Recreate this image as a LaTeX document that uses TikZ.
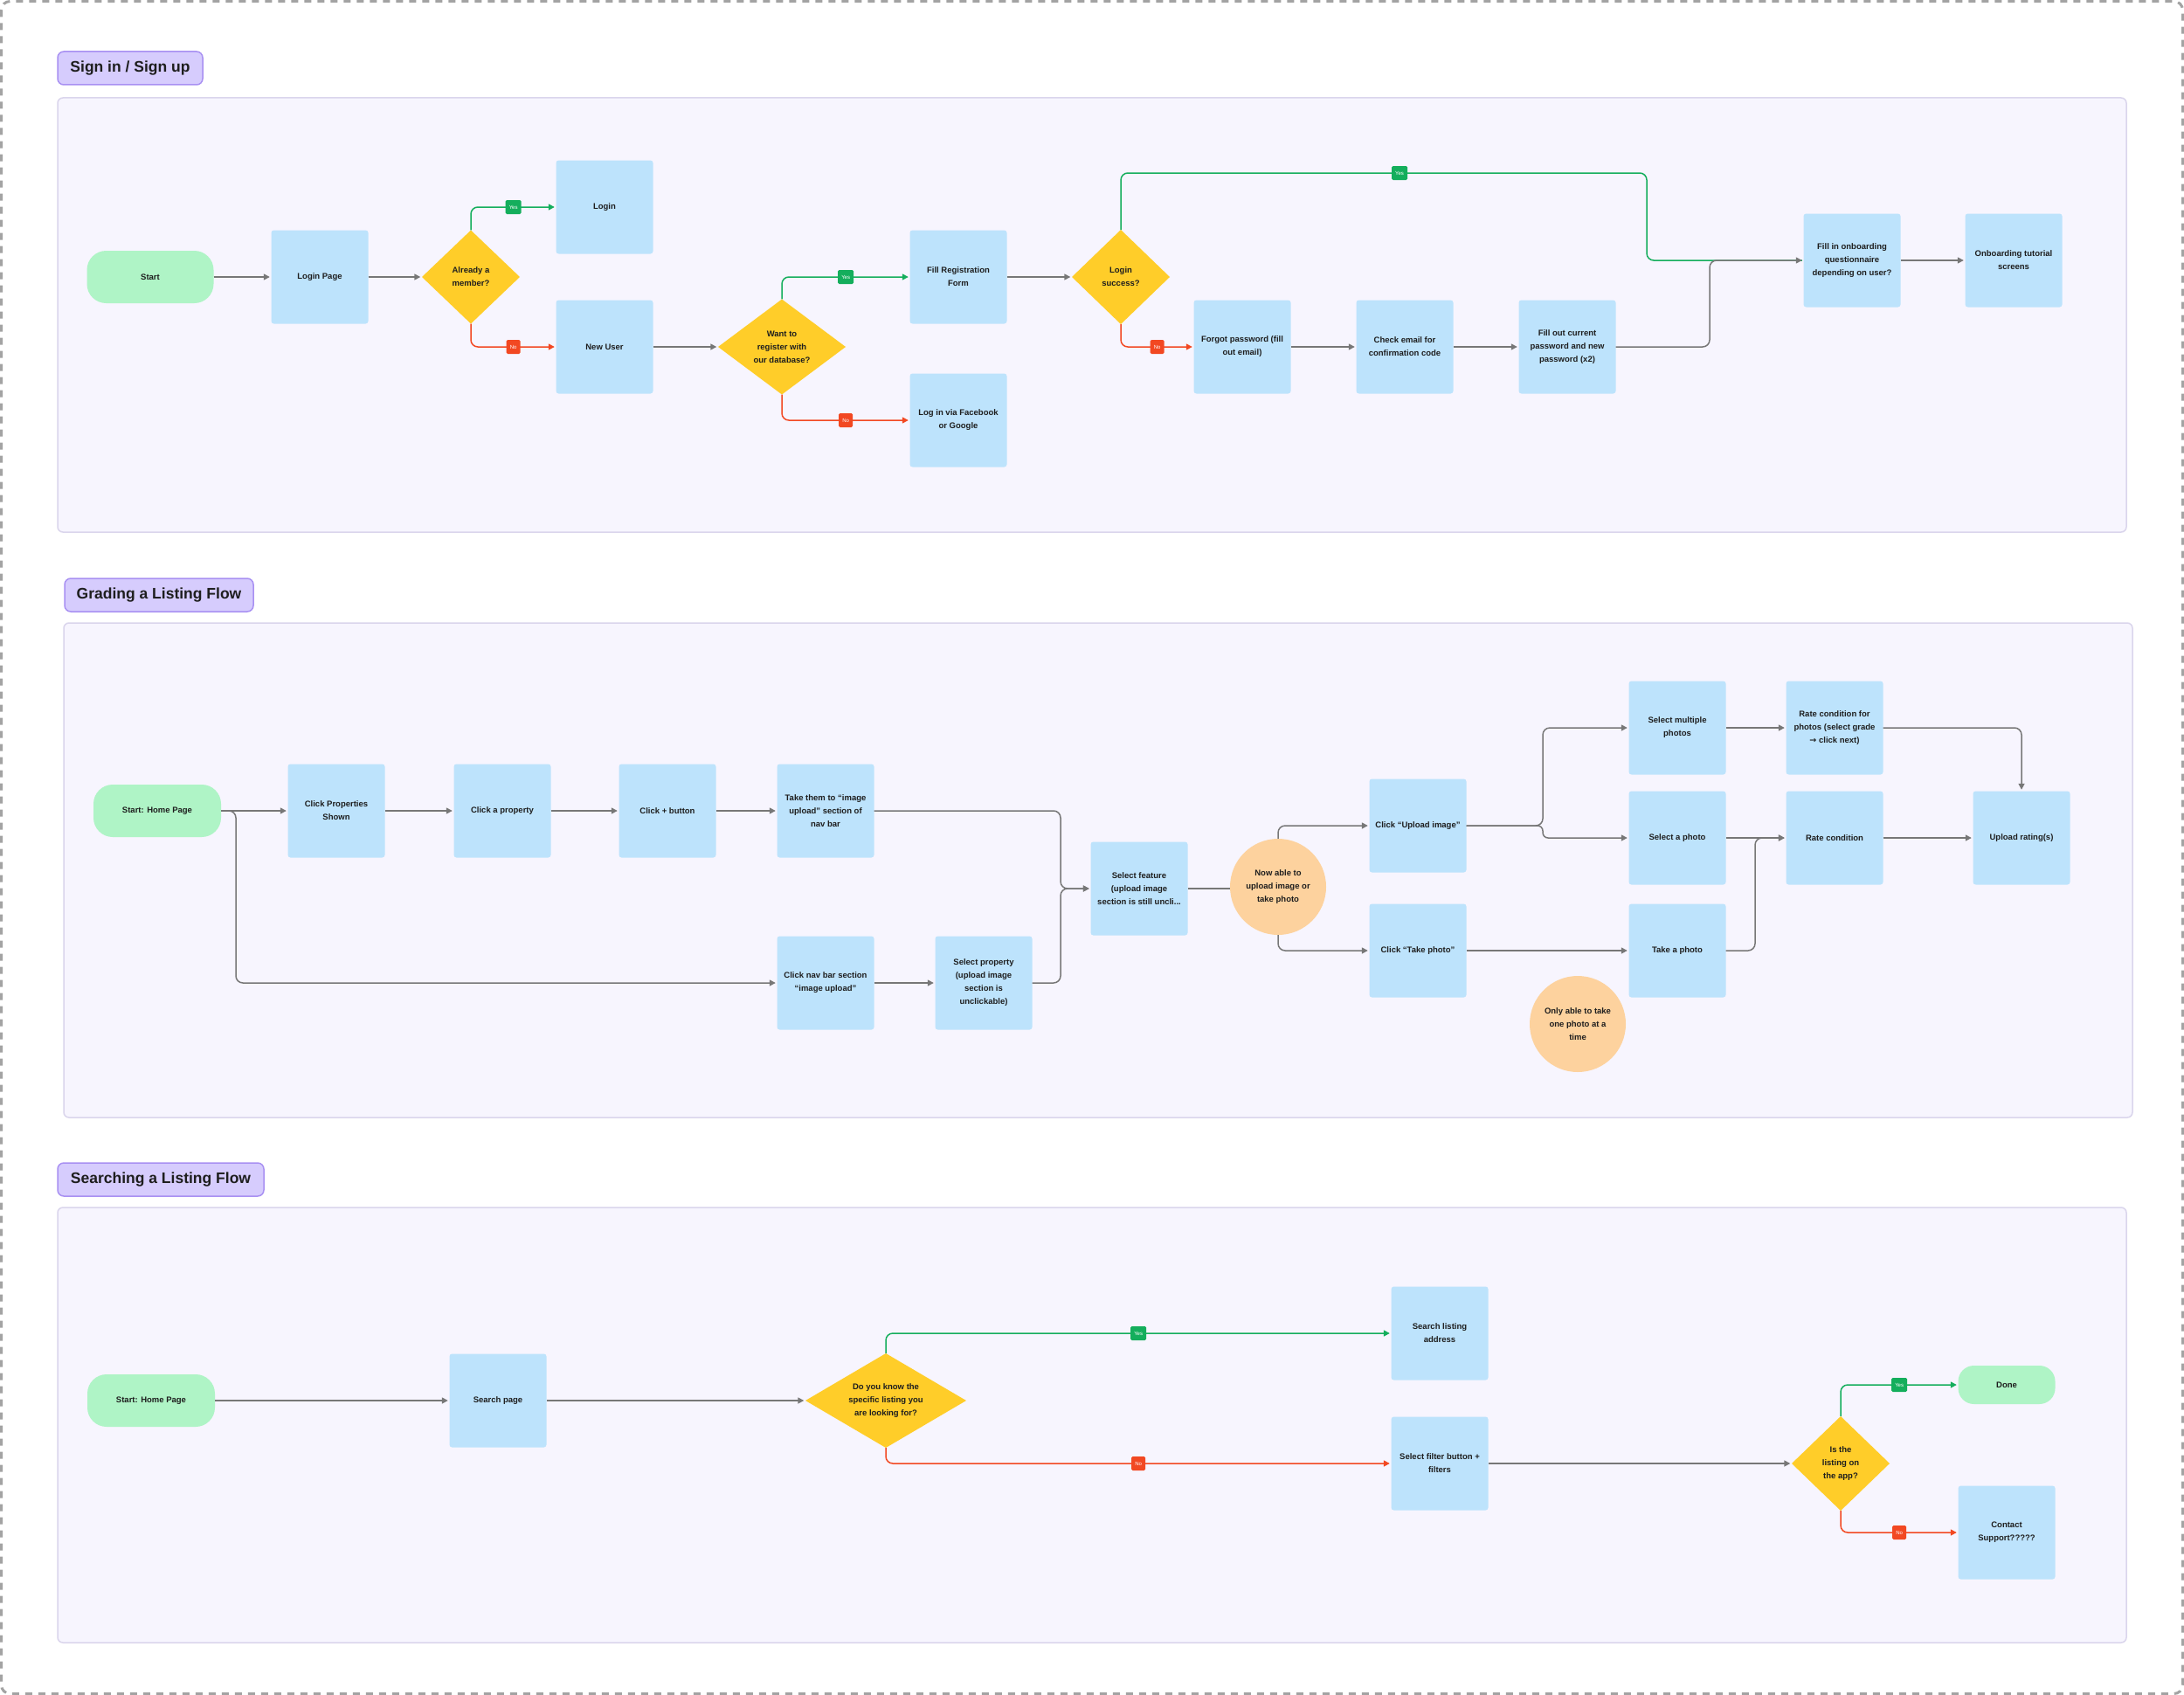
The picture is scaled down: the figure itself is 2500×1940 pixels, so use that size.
\documentclass[tikz,border=0pt]{standalone}
\usepackage{fontspec}
\setmainfont{Liberation Sans}
\newfontfamily\arrowfont{DejaVu Sans}
\usetikzlibrary{arrows.meta}
\definecolor{cblue}{HTML}{BDE3FC}
\definecolor{cgreen}{HTML}{AFF4C6}
\definecolor{cyellow}{HTML}{FFCD29}
\definecolor{corange}{HTML}{FDD29E}
\definecolor{cpanel}{HTML}{F7F5FE}
\definecolor{cpanelline}{HTML}{DAD5EC}
\definecolor{ctitle}{HTML}{D6CCFD}
\definecolor{ctitleline}{HTML}{A890F2}
\definecolor{cgray}{HTML}{777777}
\definecolor{cyes}{HTML}{14AE5C}
\definecolor{cno}{HTML}{F24822}
\definecolor{ctext}{HTML}{1E1E1E}
\definecolor{cdash}{HTML}{A3A3A3}
\newcommand\flowfont{\fontsize{9.5pt}{15pt}\selectfont\bfseries}
\newcommand\titlefont{\fontsize{17.5pt}{21pt}\selectfont\bfseries}
\newcommand\tagfont{\fontsize{6pt}{7pt}\selectfont}
\begin{document}
\begin{tikzpicture}[x=1pt,y=-1pt,
  every node/.style={text=ctext, font=\flowfont, align=center, inner sep=0pt},
  box/.style={rectangle, fill=cblue, minimum width=111pt, minimum height=107pt, rounded corners=3pt},
  pill/.style={rectangle, fill=cgreen, minimum width=146pt, minimum height=60pt, rounded corners=22pt},
  dia/.style={rectangle, fill=cpanel, path picture={\fill[cyellow] (path picture bounding box.north) -- (path picture bounding box.east) -- (path picture bounding box.south) -- (path picture bounding box.west) -- cycle;}},
  circ/.style={circle, fill=corange, minimum size=110pt},
  titlebox/.style={rectangle, fill=ctitle, draw=ctitleline, line width=1.5pt, rounded corners=7pt, minimum height=38pt, font=\titlefont},
  panel/.style={fill=cpanel, draw=cpanelline, line width=1.5pt, rounded corners=6pt},
  flow/.style={draw=cgray, line width=1.5pt, rounded corners=8pt, shorten >=1.5pt, -{Triangle[length=7pt,width=7pt]}},
  plain/.style={draw=cgray, line width=1.5pt},
  yesline/.style={flow, draw=cyes},
  noline/.style={flow, draw=cno},
  tagyes/.style={rectangle, fill=cyes, text=white, font=\tagfont, minimum width=18pt, minimum height=16pt, rounded corners=1.5pt},
  tagno/.style={rectangle, fill=cno, text=white, font=\tagfont, minimum width=16pt, minimum height=16pt, rounded corners=1.5pt}
]
\useasboundingbox (0,0) rectangle (2500,1940);
\fill[white] (0,0) rectangle (2500,1940);
\draw[cdash, line width=3pt, dash pattern=on 8pt off 7pt, rounded corners=10pt] (1.5,1.5) rectangle (2498.5,1938.5);

% panels and titles
\draw[panel] (66,112) rectangle (2434,609);
\draw[panel] (73,713) rectangle (2441,1279);
\draw[panel] (66,1382) rectangle (2434,1880);
\node[titlebox, minimum width=166pt] (t1) at (149,78) {Sign in / Sign up};
\node[titlebox, minimum width=216pt] (t2) at (182,681) {Grading a Listing Flow};
\node[titlebox, minimum width=236pt] (t3) at (184,1350) {Searching a Listing Flow};

% ---------- Section 1 ----------
\node[pill, minimum width=145pt] (s1) at (172,317) {Start};
\node[box] (lp) at (366,317) {Login Page};
\node[dia, minimum width=112pt, minimum height=107pt] (mem) at (539,317) {Already a\\member?};
\node[box] (login) at (692,237) {Login};
\node[box] (newu) at (692,397) {New User};
\node[dia, minimum width=146pt, minimum height=109pt] (reg) at (895,397) {Want to\\register with\\our database?};
\node[box] (freg) at (1097,317) {Fill Registration\\Form};
\node[box] (fb) at (1097,481) {Log in via Facebook\\or Google};
\node[dia, minimum width=112pt, minimum height=108pt] (succ) at (1283,317) {Login\\success?};
\node[box] (forgot) at (1422,397) {Forgot password (fill\\out email)};
\node[box] (check) at (1608,397) {Check email for\\confirmation code};
\node[box] (fillout) at (1794,397) {Fill out current\\password and new\\password (x2)};
\node[box] (onb) at (2120,298) {Fill in onboarding\\questionnaire\\depending on user?};
\node[box] (tut) at (2305,298) {Onboarding tutorial\\screens};

\draw[flow] (s1.east) -- (lp.west);
\draw[flow] (lp.east) -- (mem.west);
\draw[yesline] (mem.north) |- node[tagyes, pos=0.75] {Yes} (login.west);
\draw[noline] (mem.south) |- node[tagno, pos=0.75] {No} (newu.west);
\draw[flow] (newu.east) -- (reg.west);
\draw[yesline] (reg.north) |- node[tagyes, pos=0.75] {Yes} (freg.west);
\draw[noline] (reg.south) |- node[tagno, pos=0.75] {No} (fb.west);
\draw[flow] (freg.east) -- (succ.west);
\draw[yesline, -] (succ.north) -- (1283,198) -- node[tagyes, pos=0.53] {Yes} (1885,198) -- (1885,298) -- (onb.west);
\draw[noline] (succ.south) |- node[tagno, pos=0.75] {No} (forgot.west);
\draw[flow] (forgot.east) -- (check.west);
\draw[flow] (check.east) -- (fillout.west);
\draw[flow] (fillout.east) -- (1957,397) -- (1957,298) -- (onb.west);
\draw[flow] (onb.east) -- (tut.west);

% ---------- Section 2 ----------
\node[pill] (s2) at (180,928) {Start: Home Page};
\node[box] (props) at (385,928) {Click Properties\\Shown};
\node[box] (prop) at (575,928) {Click a property};
\node[box] (plus) at (764,928) {Click + button};
\node[box] (takethem) at (945,928) {Take them to “image\\upload” section of\\nav bar};
\node[box] (navbar) at (945,1125) {Click nav bar section\\“image upload”};
\node[box] (selprop) at (1126,1125) {Select property\\(upload image\\section is\\unclickable)};
\node[box] (feat) at (1304,1017) {Select feature\\(upload image\\section is still uncli...};
\node[circ] (nowable) at (1463,1015) {Now able to\\upload image or\\take photo};
\node[box] (upimg) at (1623,945) {Click “Upload image”};
\node[box] (takeph) at (1623,1088) {Click “Take photo”};
\node[box] (multi) at (1920,833) {Select multiple\\photos};
\node[box] (selone) at (1920,959) {Select a photo};
\node[box] (take) at (1920,1088) {Take a photo};
\node[box] (ratefor) at (2100,833) {Rate condition for\\photos (select grade\\{\arrowfont\bfseries →} click next)};
\node[box] (rate) at (2100,959) {Rate condition};
\node[box] (uprate) at (2314,959) {Upload rating(s)};
\node[circ] (only) at (1806,1172) {Only able to take\\one photo at a\\time};

\draw[flow] (s2.east) -- (props.west);
\draw[flow] (s2.east) -- (270,928) -- (270,1125) -- (navbar.west);
\draw[flow] (props.east) -- (prop.west);
\draw[flow] (prop.east) -- (plus.west);
\draw[flow] (plus.east) -- (takethem.west);
\draw[flow] (takethem.east) -- (1214,928) -- (1214,1017) -- (feat.west);
\draw[flow] (navbar.east) -- (selprop.west);
\draw[flow] (selprop.east) -- (1214,1125) -- (1214,1017) -- (feat.west);
\draw[plain] (feat.east) -- (feat.east -| nowable.west);
\draw[flow] (nowable.north) |- (upimg.west);
\draw[flow] (nowable.south) |- (takeph.west);
\draw[flow] (upimg.east) -- (1766,945) -- (1766,833) -- (multi.west);
\draw[flow, rounded corners=6pt] (upimg.east) -- (1766,945) -- (1766,959) -- (selone.west);
\draw[flow] (takeph.east) -- (take.west);
\draw[flow] (multi.east) -- (ratefor.west);
\draw[flow] (selone.east) -- (rate.west);
\draw[flow] (take.east) -- (2009,1088) -- (2009,959) -- (rate.west);
\draw[flow] (ratefor.east) -| (uprate.north);
\draw[flow] (rate.east) -- (uprate.west);

% ---------- Section 3 ----------
\node[pill] (s3) at (173,1603) {Start: Home Page};
\node[box] (search) at (570,1603) {Search page};
\node[dia, minimum width=184pt, minimum height=108pt] (know) at (1014,1603) {Do you know the\\specific listing you\\are looking for?};
\node[box] (addr) at (1648,1526) {Search listing\\address};
\node[box] (filt) at (1648,1675) {Select filter button +\\filters};
\node[dia, minimum width=112pt, minimum height=108pt] (onapp) at (2107,1675) {Is the\\listing on\\the app?};
\node[pill, minimum width=111pt, minimum height=44pt, rounded corners=18pt] (done) at (2297,1585) {Done};
\node[box] (contact) at (2297,1754) {Contact\\Support?????};

\draw[flow] (s3.east) -- (search.west);
\draw[flow] (search.east) -- (know.west);
\draw[yesline] (know.north) |- node[tagyes, pos=0.75] {Yes} (addr.west);
\draw[noline] (know.south) |- node[tagno, pos=0.75] {No} (filt.west);
\draw[flow] (filt.east) -- (onapp.west);
\draw[yesline] (onapp.north) |- node[tagyes, pos=0.75] {Yes} (done.west);
\draw[noline] (onapp.south) |- node[tagno, pos=0.75] {No} (contact.west);
\end{tikzpicture}
\end{document}
